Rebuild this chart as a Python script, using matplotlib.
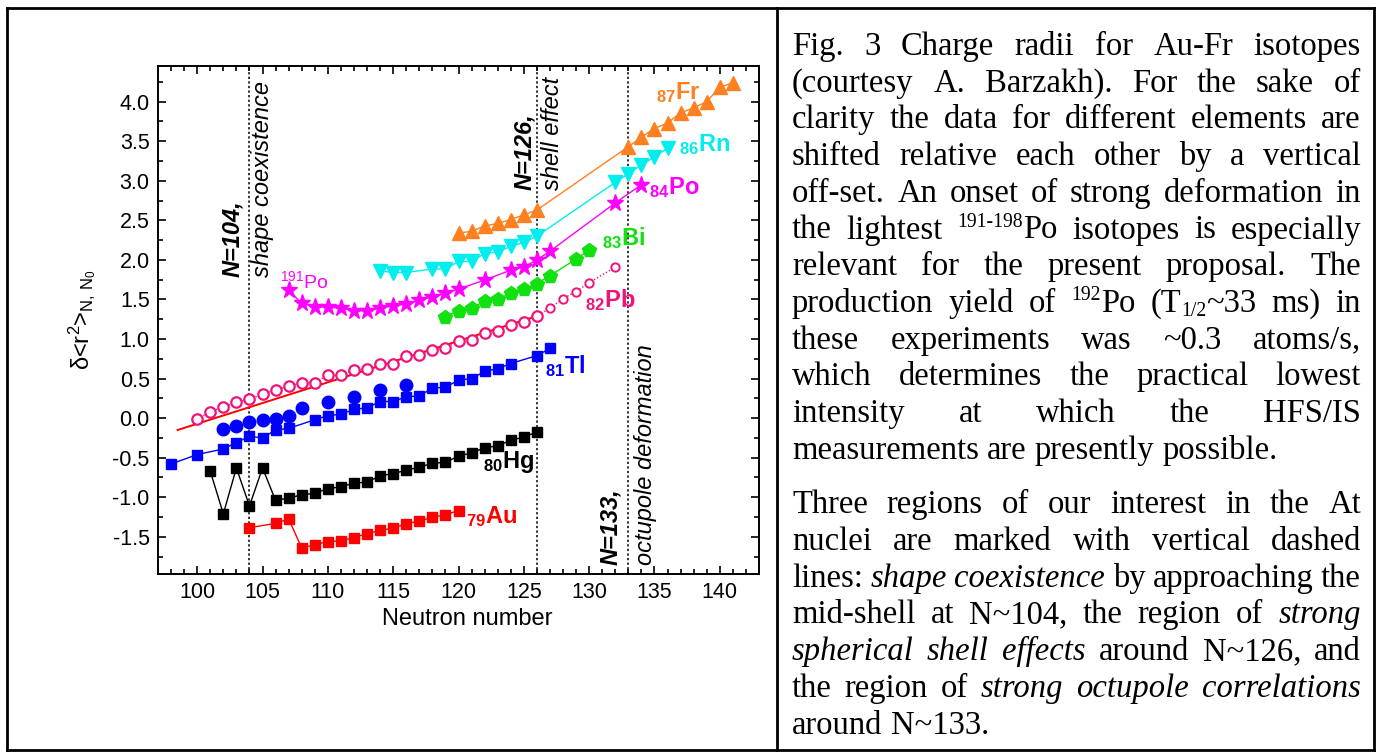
import matplotlib
matplotlib.use("Agg")
import matplotlib.pyplot as plt
from matplotlib.lines import Line2D
from matplotlib.ticker import MultipleLocator
import numpy as np

plt.rcParams['font.family'] = ['Liberation Sans', 'DejaVu Sans']
plt.rcParams['mathtext.fontset'] = 'custom'
plt.rcParams['mathtext.rm'] = 'Liberation Sans'
plt.rcParams['mathtext.it'] = 'Liberation Sans:italic'
plt.rcParams['mathtext.bf'] = 'Liberation Sans:bold'

# ---- data (neutron number, delta<r^2> shifted) ----
au_n = [104, 106, 107, 108, 109, 110, 111, 112, 113, 114, 115, 116, 117, 118, 119, 120]
au_v = [-1.385, -1.33, -1.275, -1.64, -1.60, -1.56, -1.55, -1.51, -1.46, -1.42, -1.39,
        -1.335, -1.30, -1.255, -1.22, -1.17]

hg_n = [101, 102, 103, 104, 105, 106, 107, 108, 109, 110, 111, 112, 113, 114, 115, 116,
        117, 118, 119, 120, 121, 122, 123, 124, 125, 126]
hg_v = [-0.67, -1.21, -0.63, -1.11, -0.63, -1.04, -1.01, -0.97, -0.95, -0.89, -0.87, -0.82,
        -0.81, -0.73, -0.70, -0.66, -0.62, -0.57, -0.56, -0.48, -0.44, -0.375, -0.35, -0.28,
        -0.24, -0.175]

tl_n = [98, 100, 102, 103, 104, 105, 106, 107, 109, 110, 111, 112, 113, 114, 115, 116, 117,
        118, 119, 120, 121, 122, 123, 124, 126, 127]
tl_v = [-0.58, -0.46, -0.39, -0.31, -0.23, -0.25, -0.15, -0.13, -0.02, 0.03, 0.05, 0.11, 0.13,
        0.21, 0.21, 0.27, 0.28, 0.38, 0.39, 0.48, 0.50, 0.59, 0.625, 0.69, 0.79, 0.88]

tl_iso_n = [102, 103, 104, 105, 106, 107, 108, 110, 112, 114, 116]
tl_iso_v = [-0.14, -0.10, -0.05, -0.03, -0.01, 0.03, 0.13, 0.20, 0.27, 0.36, 0.42]

pb_n = [100, 101, 102, 103, 104, 105, 106, 107, 108, 109, 110, 111, 112, 113, 114, 115, 116,
        117, 118, 119, 120, 121, 122, 123, 124, 125, 126, 127, 128, 129, 130, 132]
pb_v = [-0.01, 0.08, 0.14, 0.20, 0.24, 0.30, 0.36, 0.40, 0.45, 0.45, 0.54, 0.545, 0.61, 0.62,
        0.69, 0.69, 0.78, 0.80, 0.86, 0.89, 0.97, 0.99, 1.07, 1.10, 1.18, 1.21, 1.29, 1.39,
        1.51, 1.60, 1.71, 1.91]
pb_fit_n = [98.5, 126]
pb_fit_v = [-0.15, 1.29]

bi_n = [119, 120, 121, 122, 123, 124, 125, 126, 127, 129, 130]
bi_v = [1.28, 1.36, 1.39, 1.48, 1.50, 1.58, 1.63, 1.70, 1.80, 2.01, 2.125]

po_n = [107, 108, 109, 110, 111, 112, 113, 114, 115, 116, 117, 118, 119, 120, 122, 124, 125,
        126, 127, 132, 134]
po_v = [1.62, 1.45, 1.41, 1.40, 1.39, 1.36, 1.355, 1.39, 1.42, 1.44, 1.49, 1.535, 1.58, 1.63,
        1.745, 1.87, 1.91, 2.00, 2.11, 2.72, 2.95]

rn_n = [114, 115, 116, 118, 119, 120, 121, 122, 123, 124, 125, 126, 132, 133, 134, 135, 136]
rn_v = [1.86, 1.84, 1.84, 1.885, 1.885, 1.98, 1.98, 2.08, 2.10, 2.17, 2.22, 2.30, 2.98, 3.09,
        3.20, 3.30, 3.41]

fr_n = [120, 121, 122, 123, 124, 125, 126, 133, 134, 135, 136, 137, 138, 139, 140, 141]
fr_v = [2.34, 2.36, 2.43, 2.46, 2.51, 2.57, 2.63, 3.43, 3.55, 3.66, 3.73, 3.86, 3.92, 4.00,
        4.18, 4.24]

region_n = [104, 126, 133]

# element labels: (text, x, y, colour)
elem_labels = [
    (r'$_{\mathbf{79}}$Au', 120.57, -1.33, '#ff0000'),
    (r'$_{\mathbf{80}}$Hg', 121.89, -0.635, 'black'),
    (r'$_{\mathbf{81}}$Tl', 126.6, 0.574, '#0000ff'),
    (r'$_{\mathbf{82}}$Pb', 129.66, 1.408, '#f0147a'),
    (r'$_{\mathbf{83}}$Bi', 130.98, 2.188, '#11e011'),
    (r'$_{\mathbf{84}}$Po', 134.56, 2.829, '#ff00ff'),
    (r'$_{\mathbf{86}}$Rn', 136.91, 3.377, '#00eeee'),
    (r'$_{\mathbf{87}}$Fr', 135.13, 4.03, '#ff8020'),
]

W, H = 1381, 756
fig = plt.figure(figsize=(W / 100, H / 100), dpi=100)
fig.patch.set_facecolor('white')

ax = fig.add_axes([158 / W, 1 - 574 / H, (759 - 158) / W, (574 - 66) / H])

lw = 1.0
ax.plot(pb_fit_n, pb_fit_v, color='#ff0000', lw=1.4, zorder=2)

ax.plot(au_n, au_v, color='#ff0000', lw=lw, marker='s', ms=7.5, mec='#ff0000', mfc='#ff0000')
ax.plot(hg_n, hg_v, color='black', lw=lw, marker='s', ms=7.5)
ax.plot(tl_n, tl_v, color='#0000ff', lw=lw, marker='s', ms=7.5)
ax.plot(tl_iso_n, tl_iso_v, ls='none', marker='o', ms=9, color='#0000ff')

pb_n_arr = np.array(pb_n)
pb_v_arr = np.array(pb_v)
ax.plot(pb_n, pb_v, color='#f0147a', lw=lw, ls=(0, (1, 1.5)))
big = pb_n_arr <= 126
ax.plot(pb_n_arr[big], pb_v_arr[big], ls='none', marker='o', ms=7.5, mfc='white',
        mec='#f0147a', mew=1.6)
ax.plot(pb_n_arr[~big], pb_v_arr[~big], ls='none', marker='o', ms=6, mfc='white',
        mec='#f0147a', mew=1.4)

ax.plot(bi_n, bi_v, color='#11e011', lw=lw, marker='p', ms=10)
ax.plot(po_n, po_v, color='#ff00ff', lw=lw, marker='*', ms=12.5)
ax.plot(rn_n, rn_v, color='#00eeee', lw=lw, marker='v', ms=9.5)
ax.plot(fr_n, fr_v, color='#ff8020', lw=lw, marker='^', ms=9.5)

for n in region_n:
    ax.axvline(n, color='black', lw=1.1, ls=(0, (1.5, 1.5)), zorder=1)

ax.set_xlim(97, 143)
ax.set_ylim(-1.97, 4.45)
ax.xaxis.set_major_locator(MultipleLocator(5))
ax.xaxis.set_minor_locator(MultipleLocator(1))
ax.yaxis.set_major_locator(MultipleLocator(0.5))
ax.yaxis.set_minor_locator(MultipleLocator(0.25))
ax.set_xticks(np.arange(100, 141, 5))
ax.set_yticks(np.arange(-1.5, 4.01, 0.5))
ax.set_yticklabels([f'{v:.1f}' for v in np.arange(-1.5, 4.01, 0.5)])
ax.tick_params(which='both', direction='in', top=True, right=True, width=1.2, labelsize=15.5)
ax.tick_params(which='major', length=6, pad=6)
ax.tick_params(which='minor', length=3.5)
for sp in ax.spines.values():
    sp.set_linewidth(1.4)

ax.set_xlabel('Neutron number', fontsize=17)
ax.xaxis.set_label_coords(0.514, -0.066)
ax.set_ylabel(r'δ<r$^{2}$>$_{\mathrm{N,\,N_0}}$', fontsize=17)
ax.yaxis.set_label_coords(-0.10, 0.5)

# annotations of the three regions
ann = dict(rotation=90, ha='center', va='bottom', fontsize=17)
ax.text(102.73, 1.78, 'N=104,', fontweight='bold', style='italic', **ann)
ax.text(104.98, 1.78, 'shape coexistence', style='italic', **ann)
ax.text(125.08, 2.88, 'N=126,', fontweight='bold', style='italic', **ann)
ax.text(127.2, 2.88, 'shell effect', style='italic', **ann)
ax.text(131.64, -1.86, 'N=133,', fontweight='bold', style='italic', **ann)
ax.text(134.29, -1.86, 'octupole deformation', style='italic', **ann)

for txt, x, y, c in elem_labels:
    ax.text(x, y, txt, color=c, fontsize=17, fontweight='bold', va='baseline', ha='left')
ax.text(106.32, 1.641, r'$^{191}$Po', color='#ff00ff', fontsize=14, va='baseline', ha='left')

# ---- frame of the table ----
def fig_line(x0, y0, x1, y1):
    fig.add_artist(Line2D([x0 / W, x1 / W], [1 - y0 / H, 1 - y1 / H], color='black',
                          lw=2, transform=fig.transFigure, solid_capstyle='projecting'))

fig_line(7, 8, 1374, 8)
fig_line(7, 750, 1374, 750)
fig_line(7, 8, 7, 750)
fig_line(1374, 8, 1374, 750)
fig_line(777, 8, 777, 750)

# ---- justified caption text on the right ----
para1 = [
    [("Fig. 3 Charge radii for Au-Fr isotopes", 'n')],
    [("(courtesy A. Barzakh). For the sake of", 'n')],
    [("clarity the data for different elements are", 'n')],
    [("shifted relative each other by a vertical", 'n')],
    [("off-set. An onset of strong deformation in", 'n')],
    [("the lightest ", 'n'), ("191-198", 'sup'), ("Po isotopes is especially", 'n')],
    [("relevant for the present proposal. The", 'n')],
    [("production yield of ", 'n'), ("192", 'sup'), ("Po (T", 'n'), ("1/2", 'sub'),
     ("~33 ms) in", 'n')],
    [("these experiments was ~0.3 atoms/s,", 'n')],
    [("which determines the practical lowest", 'n')],
    [("intensity at which the HFS/IS", 'n')],
    [("measurements are presently possible.", 'n')],
]
para2 = [
    [("Three regions of our interest in the At", 'n')],
    [("nuclei are marked with vertical dashed", 'n')],
    [("lines: ", 'n'), ("shape coexistence", 'i'), (" by approaching the", 'n')],
    [("mid-shell at N~104, the region of ", 'n'), ("strong", 'i')],
    [("spherical shell effects", 'i'), (" around N~126, and", 'n')],
    [("the region of ", 'n'), ("strong octupole correlations", 'i')],
    [("around N~133.", 'n')],
]

FS = 23.5
em = FS * 100 / 72
renderer = fig.canvas.get_renderer()


def words_of(runs):
    words = [[]]
    for txt, st in runs:
        parts = txt.split(' ')
        for k, p in enumerate(parts):
            if k > 0:
                words.append([])
            if p:
                words[-1].append((p, st))
    return [w for w in words if w]


def put_run(txt, st, x, y):
    size = FS
    dy = 0
    style = 'normal'
    if st == 'sup':
        size = FS * 0.6
        dy = -0.36 * em
    elif st == 'sub':
        size = FS * 0.6
        dy = 0.13 * em
    elif st == 'i':
        style = 'italic'
    t = fig.text((x) / W, 1 - (y + dy) / H, txt, fontsize=size, style=style,
                 family=['Liberation Serif', 'DejaVu Serif'], va='baseline', ha='left')
    return t.get_window_extent(renderer).width


def measure(txt, st):
    w = put_run(txt, st, -2000, -2000)
    fig.texts[-1].remove()
    return w


def draw_lines(lines, y0, x_left, x_right, step):
    for i, runs in enumerate(lines):
        y = y0 + i * step
        words = words_of(runs)
        widths = [sum(measure(t, s) for t, s in w) for w in words]
        last = (i == len(lines) - 1)
        if last or len(words) < 2:
            gap = 0.25 * em
        else:
            gap = (x_right - x_left - sum(widths)) / (len(words) - 1)
        x = x_left
        for w, ww in zip(words, widths):
            xx = x
            for t, s in w:
                xx += put_run(t, s, xx, y)
            x += ww + gap


draw_lines(para1, 55, 792, 1361, 36.7)
draw_lines(para2, 513.3, 792, 1361, 36.7)

fig.savefig('out.png', dpi=100, facecolor='white')
